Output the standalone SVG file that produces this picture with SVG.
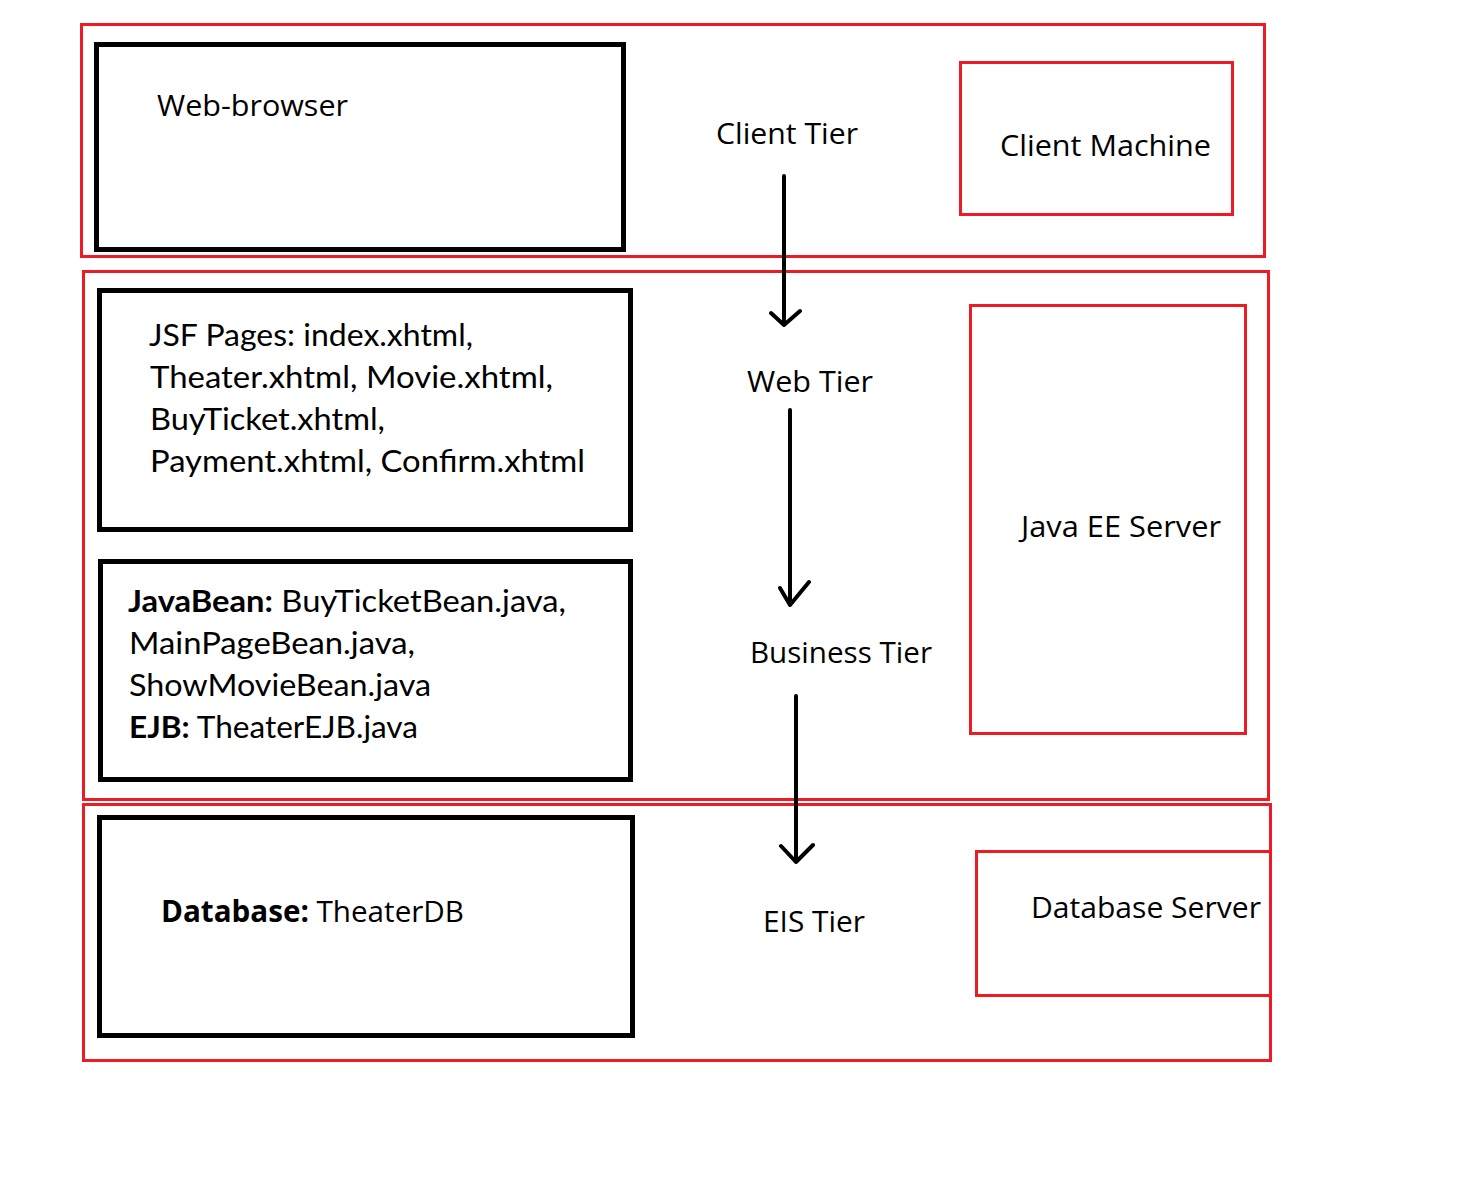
<svg xmlns="http://www.w3.org/2000/svg" width="1460" height="1192" viewBox="0 0 1460 1192">
<style>
.tier{fill:none;stroke:#ED1C24;stroke-width:3}
.box{fill:none;stroke:#000;stroke-width:5}
.seg{font-family:"Open Sans","Noto Sans",sans-serif;font-size:30px;fill:#000}
.cal{font-family:Lato,"Open Sans",sans-serif;font-size:31px;fill:#000}
.b{font-weight:bold}
.arr{fill:none;stroke:#000;stroke-width:4;stroke-linecap:round;stroke-linejoin:round}
</style>
<rect width="1460" height="1192" fill="#fff"/>
<g id="client-tier">
<rect class="tier" x="81.5" y="24.5" width="1183" height="232"/>
</g>
<g id="web-tier">
<rect class="tier" x="83.5" y="271.5" width="1185" height="528"/>
</g>
<g id="eis-tier">
<rect class="tier" x="83.5" y="804.5" width="1187" height="256"/>
</g>
<g id="web-browser">
<rect class="box" x="96.5" y="44.5" width="527" height="205"/>
<text class="seg" x="157" y="116" textLength="191" lengthAdjust="spacingAndGlyphs">Web-browser</text>
</g>
<g id="client-tier-label">
<text class="seg" x="716" y="144" textLength="142" lengthAdjust="spacingAndGlyphs">Client Tier</text>
</g>
<g id="client-machine">
<rect class="tier" x="960.5" y="62.5" width="272" height="152"/>
<text class="seg" x="1000" y="156" textLength="211" lengthAdjust="spacingAndGlyphs">Client Machine</text>
</g>
<g id="jsf-pages">
<rect class="box" x="99.5" y="290.5" width="531" height="239"/>
<text class="cal" x="149" y="346" textLength="324" lengthAdjust="spacingAndGlyphs">JSF Pages: index.xhtml,</text>
<text class="cal" x="150" y="388" textLength="403" lengthAdjust="spacingAndGlyphs">Theater.xhtml, Movie.xhtml,</text>
<text class="cal" x="150" y="430" textLength="235" lengthAdjust="spacingAndGlyphs">BuyTicket.xhtml,</text>
<text class="cal" x="150" y="472" textLength="435" lengthAdjust="spacingAndGlyphs">Payment.xhtml, Confirm.xhtml</text>
</g>
<g id="web-tier-label">
<text class="seg" x="747" y="392" textLength="126" lengthAdjust="spacingAndGlyphs">Web Tier</text>
</g>
<g id="java-ee-server">
<rect class="tier" x="970.5" y="305.5" width="275" height="428"/>
<text class="seg" x="1021" y="537" textLength="200" lengthAdjust="spacingAndGlyphs">Java EE Server</text>
</g>
<g id="beans">
<rect class="box" x="100.5" y="561.5" width="530" height="218"/>
<text class="cal" x="128" y="612" textLength="438" lengthAdjust="spacingAndGlyphs"><tspan class="b">JavaBean:</tspan> BuyTicketBean.java,</text>
<text class="cal" x="129" y="654" textLength="286" lengthAdjust="spacingAndGlyphs">MainPageBean.java,</text>
<text class="cal" x="129" y="696" textLength="302" lengthAdjust="spacingAndGlyphs">ShowMovieBean.java</text>
<text class="cal" x="129" y="738" textLength="289" lengthAdjust="spacingAndGlyphs"><tspan class="b">EJB:</tspan> TheaterEJB.java</text>
</g>
<g id="business-tier-label">
<text class="seg" x="750" y="663" textLength="182" lengthAdjust="spacingAndGlyphs">Business Tier</text>
</g>
<g id="database">
<rect class="box" x="99.5" y="817.5" width="533" height="218"/>
<text class="seg" x="161" y="922" textLength="303" lengthAdjust="spacingAndGlyphs"><tspan class="b">Database:</tspan> TheaterDB</text>
</g>
<g id="eis-tier-label">
<text class="seg" x="763" y="932" textLength="102" lengthAdjust="spacingAndGlyphs">EIS Tier</text>
</g>
<g id="database-server">
<rect class="tier" x="976.5" y="851.5" width="294" height="144"/>
<text class="seg" x="1031" y="918" textLength="230" lengthAdjust="spacingAndGlyphs">Database Server</text>
</g>
<g id="connectors">
<path class="arr" d="M784 176V325M771 313L784 325L800 311"/>
<path class="arr" d="M790 410V605M780 588L790 605L809 582"/>
<path class="arr" d="M796 696V862M781 846L796 862L813 845"/>
</g>
</svg>
